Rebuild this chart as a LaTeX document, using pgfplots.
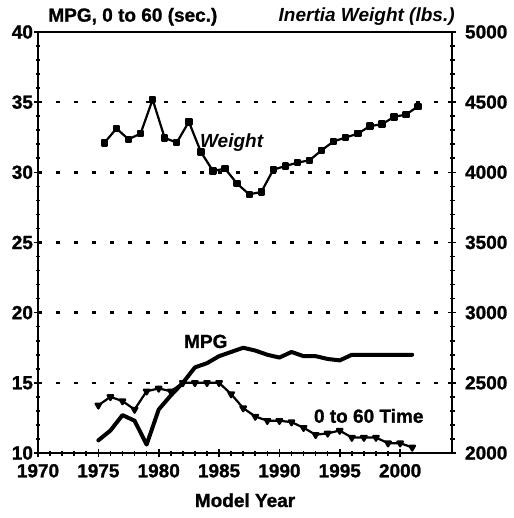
\documentclass[border=0pt]{standalone}
\usepackage{fontspec}
\setmainfont{Liberation Sans}[BoldFeatures={FakeBold=1.2}]
\usepackage{pgfplots}
\pgfplotsset{compat=1.18}
\newcommand{\lab}{\bfseries\fontsize{9.5}{11}\selectfont}
\begin{document}
\begin{tikzpicture}
\path[use as bounding box] (-19pt,-32.5pt) rectangle (237.5pt,226.5pt);
\pgfplotsset{
  common/.style={
    scale only axis, width=207pt, height=210.5pt,
    xmin=1970, xmax=2004.3,
    tick align=center, major tick length=4pt, minor tick length=2.5pt,
    every tick/.style={black, line width=0.8pt},
    axis line style={line width=1pt},
    /pgf/number format/assume math mode=true,
    /pgf/number format/1000 sep={},
    tick label style={font=\lab},
    clip=false,
  }
}
\begin{axis}[common,
  ymin=10, ymax=40,
  xtick={1970,1975,...,2000}, minor x tick num=4,
  ytick={10,15,...,40}, minor y tick num=4,
  xtick pos=bottom, ytick pos=left,
  yticklabel style={xshift=3pt},
  ymajorgrids,
  grid style={black, line width=1.3pt, dash pattern=on 2pt off 7pt},
  xlabel={Model Year}, xlabel style={font=\lab, yshift=-1pt},
]
% MPG
\addplot[black, line width=2pt, line join=round, line cap=round] coordinates {
(1975,10.9) (1976,11.6) (1977,12.7) (1978,12.3) (1979,10.6) (1980,13.1)
(1981,14.1) (1982,15.0) (1983,16.1) (1984,16.4) (1985,16.9) (1986,17.2)
(1987,17.5) (1988,17.3) (1989,17.0) (1990,16.8) (1991,17.2) (1992,16.9)
(1993,16.9) (1994,16.7) (1995,16.6) (1996,17.0) (1997,17.0) (1998,17.0)
(1999,17.0) (2000,17.0) (2001,17.0)
};
% 0 to 60 time
\addplot[black, line width=1.1pt, line join=round, mark=triangle*, mark size=1.6pt,
  mark options={rotate=180, solid}] coordinates {
(1975,13.4) (1976,14.0) (1977,13.7) (1978,13.1) (1979,14.4) (1980,14.6)
(1981,14.4) (1982,15.0) (1983,15.0) (1984,15.0) (1985,15.0) (1986,14.2)
(1987,13.2) (1988,12.6) (1989,12.3) (1990,12.3) (1991,12.2) (1992,11.8)
(1993,11.3) (1994,11.4) (1995,11.6) (1996,11.1) (1997,11.1) (1998,11.1)
(1999,10.7) (2000,10.7) (2001,10.4)
};
\node[font=\lab, anchor=center] at (axis cs:1983.9,17.95) {MPG};
\node[font=\lab, anchor=center] at (axis cs:1997.4,12.64) {0 to 60 Time};
\end{axis}
\begin{axis}[common,
  ymin=2000, ymax=5000,
  axis x line=none, axis y line*=right,
  ytick={2000,2500,...,5000}, minor y tick num=4,
  ytick pos=right,
  yticklabel style={xshift=1pt},
]
\addplot[black, line width=1.1pt, line join=round, xshift=3pt, mark=square*, mark size=1.3pt,
  mark options={solid}] coordinates {
(1975,4210) (1976,4312) (1977,4236) (1978,4276) (1979,4519) (1980,4245)
(1981,4212) (1982,4360) (1983,4145) (1984,4010) (1985,4026) (1986,3919)
(1987,3843) (1988,3860) (1989,4019) (1990,4045) (1991,4069) (1992,4086)
(1993,4157) (1994,4221) (1995,4248) (1996,4276) (1997,4329) (1998,4343)
(1999,4395) (2000,4412) (2001,4471)
};
\node[font=\lab\itshape, anchor=west, inner sep=0pt] at (axis cs:1983.4,4215) {Weight};
\end{axis}
\node[font=\lab, anchor=south west, inner sep=0pt] at (5pt,213.5pt) {MPG, 0 to 60 (sec.)};
\node[font=\lab\itshape, anchor=south east, inner sep=0pt] at (208.5pt,213.5pt) {Inertia Weight (lbs.)};
\end{tikzpicture}
\end{document}
